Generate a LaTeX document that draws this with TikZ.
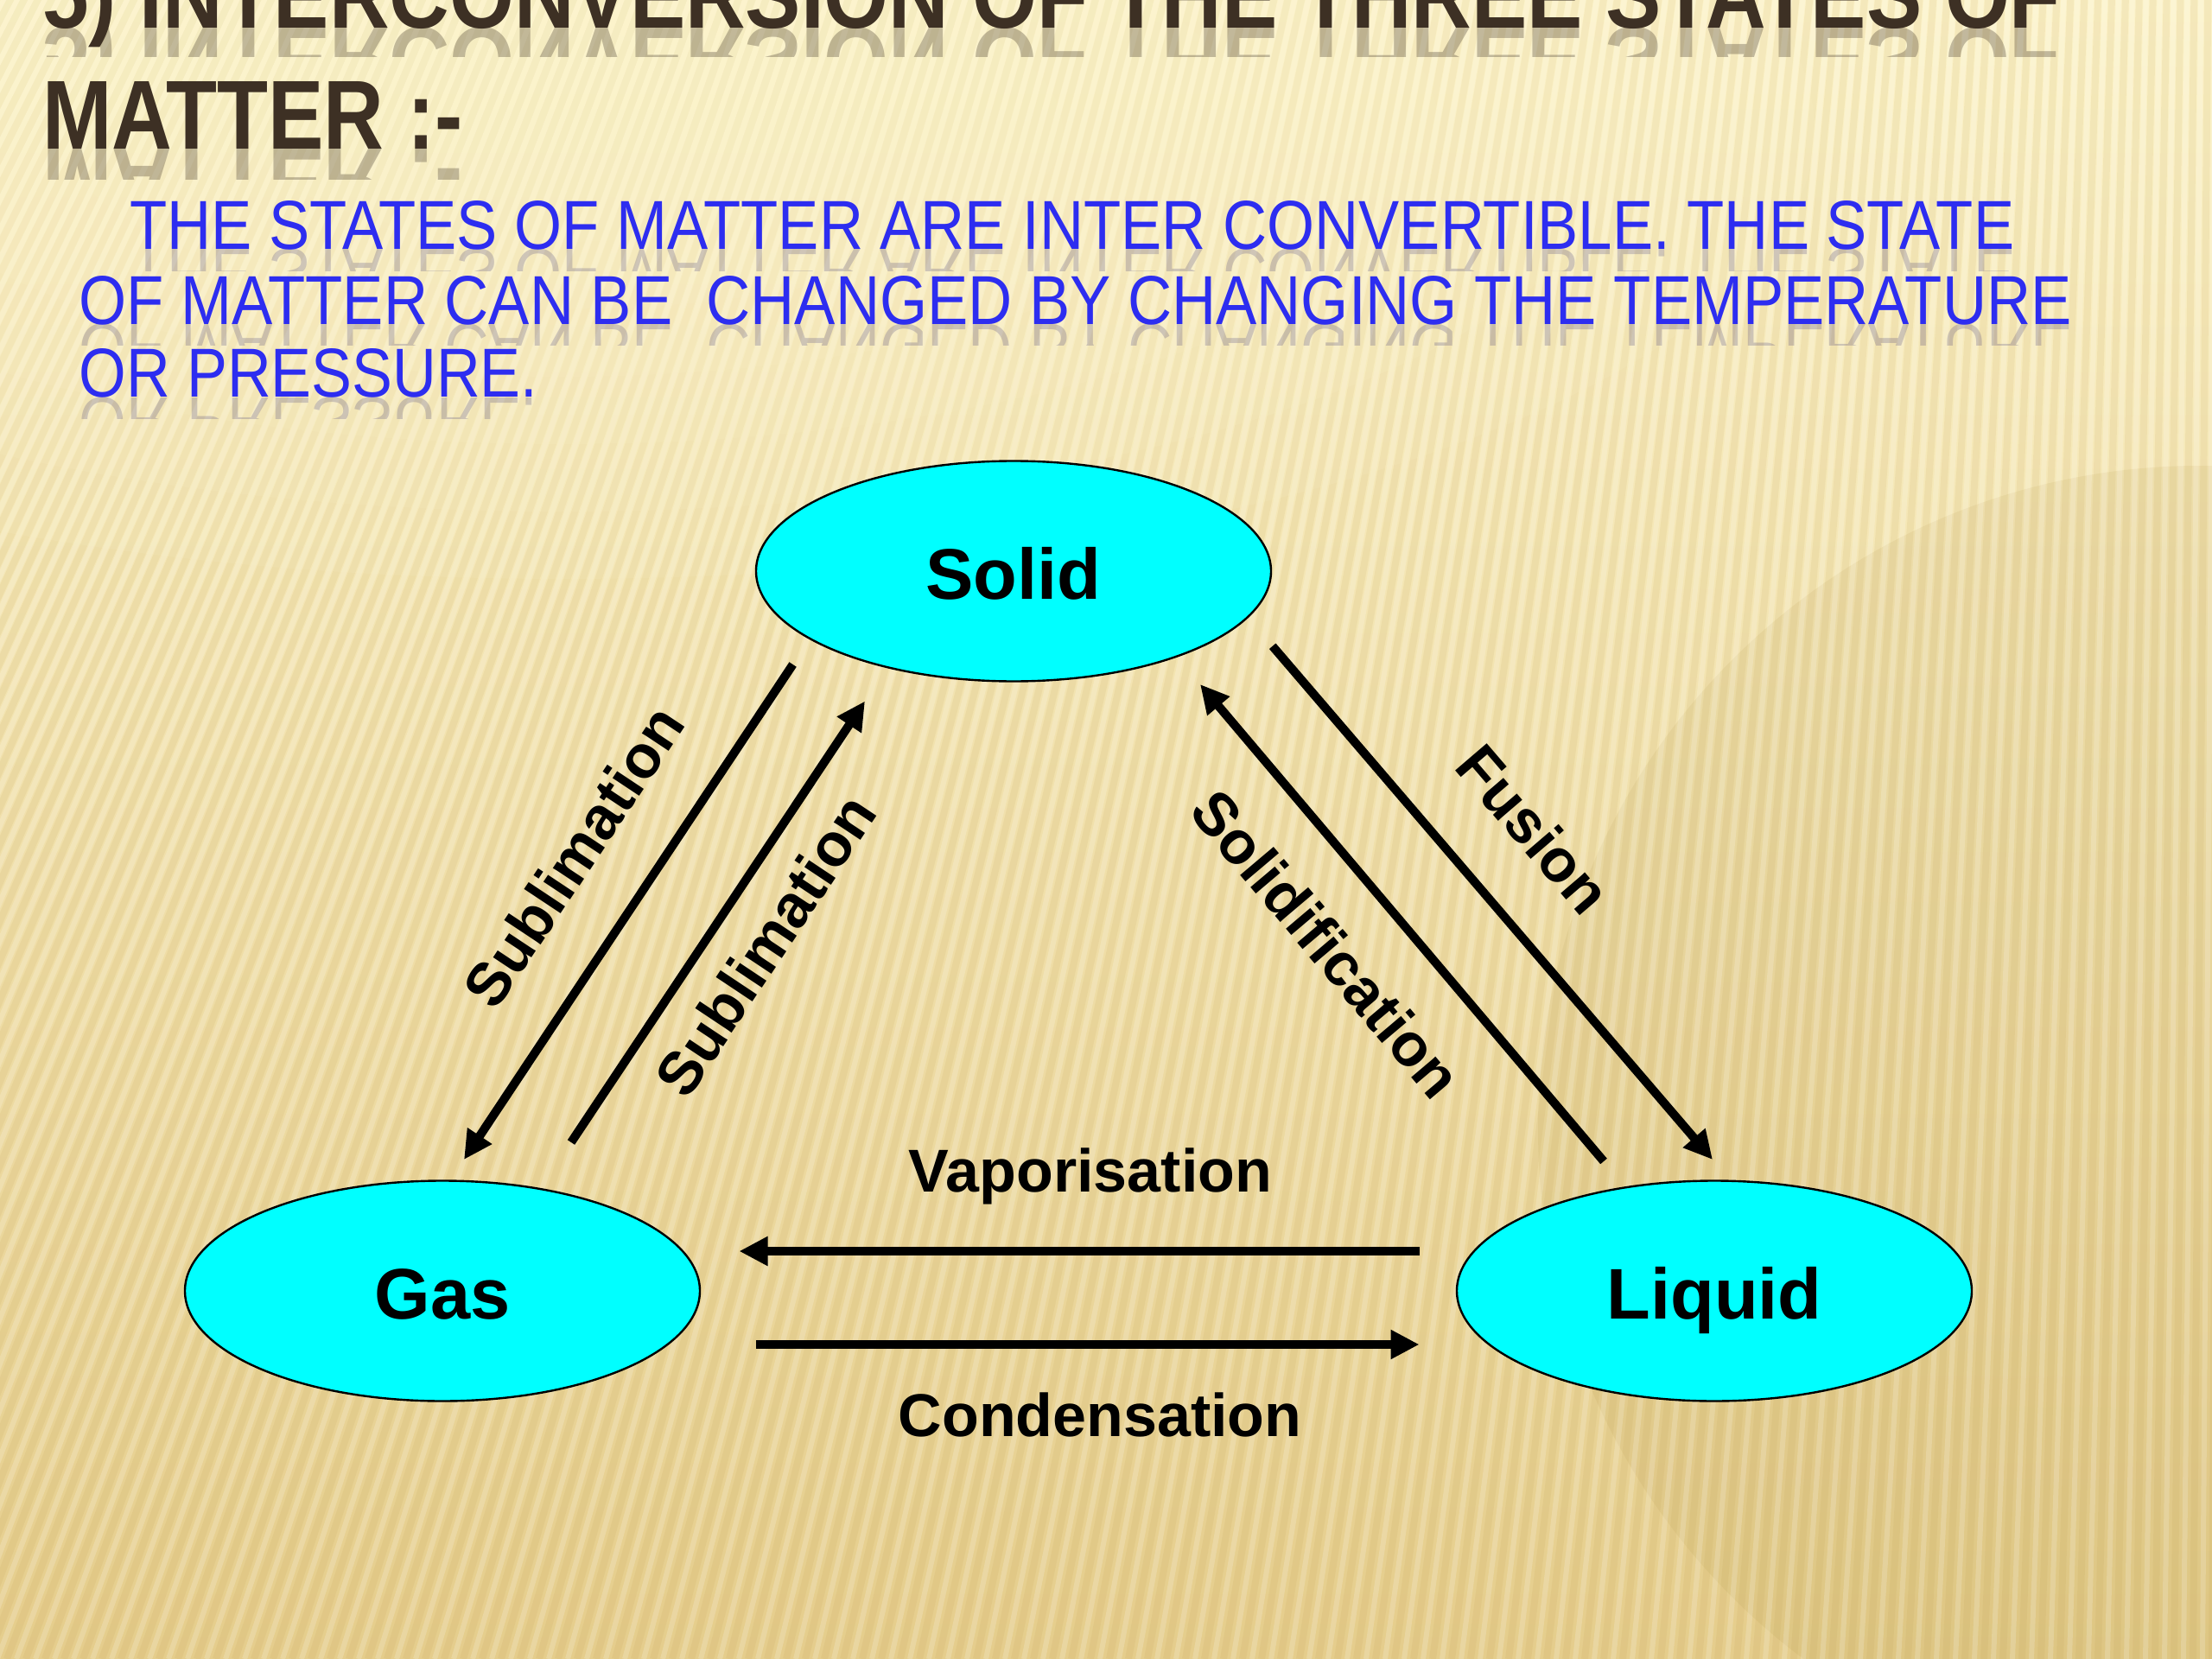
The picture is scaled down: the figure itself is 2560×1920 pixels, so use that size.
\documentclass[tikz,border=0pt]{standalone}
\usepackage{fontspec}
\setmainfont{Liberation Sans}
\usepackage{graphicx}
\usetikzlibrary{shapes.geometric,arrows.meta}
\definecolor{bgtop}{RGB}{252,243,202}
\definecolor{bgmid}{RGB}{247,231,176}
\definecolor{bgbot}{RGB}{229,205,140}
\definecolor{stripec}{RGB}{185,150,70}
\definecolor{discc}{RGB}{170,140,60}
\definecolor{titlebrown}{RGB}{61,48,36}
\definecolor{bodyblue}{RGB}{45,45,240}
\definecolor{statecyan}{RGB}{0,255,255}
\newcommand\TitleA{\resizebox{1167.5pt}{39pt}{\bfseries 5) INTERCONVERSION OF THE THREE STATES OF}}
\newcommand\TitleB{\resizebox{243pt}{39pt}{\bfseries MATTER :-}}
\newcommand\BodyA{\resizebox{1090pt}{28pt}{THE STATES OF MATTER ARE INTER CONVERTIBLE. THE STATE}}
\newcommand\BodyB{\resizebox{1153pt}{28pt}{OF MATTER CAN BE\ \ CHANGED BY CHANGING THE TEMPERATURE}}
\newcommand\BodyC{\resizebox{265.5pt}{28pt}{OR PRESSURE.}}
\begin{document}
\begin{tikzpicture}[x=0.5pt,y=-0.5pt,
  stripe/.style={line width=4pt, draw=stripec, draw opacity=0.11},
  shine/.style={line width=3pt, draw=white, draw opacity=0.18},
  glow/.style={fill=bgtop, fill opacity=0.13},
  titletext/.style={inner sep=0, text=titlebrown, anchor=base west},
  bodytext/.style={inner sep=0, text=bodyblue, anchor=base west},
  mirror/.style={inner sep=0, anchor=base west, yscale=-1},
  state/.style={ellipse, draw=black, line width=1.2pt, fill=statecyan,
    minimum width=298pt, minimum height=127.5pt, inner sep=0,
    text height=32pt, text depth=0pt,
    font=\fontsize{41.5}{48}\selectfont\bfseries},
  conv/.style={line width=5pt, draw=black, -{Triangle[length=16.5pt,width=16pt]}},
  lbl/.style={inner sep=0, font=\fontsize{35}{40}\selectfont\bfseries}]
\useasboundingbox (0,0) rectangle (2560,1920);
\clip (0,0) rectangle (2560,1920);
% background
\shade[top color=bgtop, middle color=bgmid, bottom color=bgbot] (0,0) rectangle (2560,1920);
\fill[discc, opacity=0.10] (2547,1306) circle[radius=767];
\foreach \b in {-1400,-1378,...,2700} {
  \draw[stripe] (2600,-5000) -- (\b,1920);
  \draw[shine] (2600,-5000) -- (\b+11,1920);
}
\foreach \r in {1,0.85,0.7,0.55,0.4,0.25} {
  \fill[glow] (650,150) ellipse[x radius=1450*\r, y radius=520*\r];
}
% title reflections (one faint mirrored copy per line)
\begin{scope}
  \clip (0,33) rectangle (2560,66);
  \node[mirror, text=titlebrown, opacity=0.3] (title1r) at (49,33) {\TitleA};
\end{scope}
\begin{scope}
  \clip (0,173) rectangle (2560,208);
  \node[mirror, text=titlebrown, opacity=0.3] (title2r) at (49,173) {\TitleB};
\end{scope}
\begin{scope}
  \clip (0,289) rectangle (2560,314);
  \node[mirror, text=titlebrown!60!bodyblue, opacity=0.22] (body1r) at (150,289) {\BodyA};
\end{scope}
\begin{scope}
  \clip (0,375.5) rectangle (2560,400);
  \node[mirror, text=titlebrown!60!bodyblue, opacity=0.22] (body2r) at (91,375.5) {\BodyB};
\end{scope}
\begin{scope}
  \clip (0,460) rectangle (2560,485);
  \node[mirror, text=titlebrown!60!bodyblue, opacity=0.22] (body3r) at (91,460) {\BodyC};
\end{scope}
% title and body text
\node[titletext] (title1) at (49,33) {\TitleA};
\node[titletext] (title2) at (49,173) {\TitleB};
\node[bodytext] (body1) at (150,289) {\BodyA};
\node[bodytext] (body2) at (91,375.5) {\BodyB};
\node[bodytext] (body3) at (91,460) {\BodyC};
% states
\node[state] (solid) at (1173,661) {Solid};
\node[state] (gas) at (512,1494) {Gas};
\node[state] (liquid) at (1984,1494) {Liquid};
% connector ends
\coordinate (sgA) at (917.6,769);
\coordinate (sgB) at (537,1342);
\coordinate (gsA) at (661,1322);
\coordinate (gsB) at (1001,811.5);
\coordinate (lsA) at (1856,1344);
\coordinate (lsB) at (1389,792);
\coordinate (slA) at (1472.7,747.8);
\coordinate (slB) at (1982,1342);
\coordinate (lgA) at (1642.5,1448);
\coordinate (lgB) at (855.5,1448);
\coordinate (glA) at (875,1556);
\coordinate (glB) at (1642.5,1556);
% connectors
\draw[conv] (sgA) -- (sgB) node[lbl, sloped, pos=0.473, above=29pt] (lsub1) {Sublimation};
\draw[conv] (gsA) -- (gsB) node[lbl, sloped, pos=0.513, below=14.75pt] (lsub2) {Sublimation};
\draw[conv] (lsA) -- (lsB) node[lbl, sloped, pos=0.552, below=25.7pt] (lsolid) {Solidification};
\draw[conv] (slA) -- (slB) node[lbl, sloped, pos=0.457, above=30.7pt] (lfus) {Fusion};
\draw[conv] (lgA) -- (lgB) node[lbl, pos=0.4835, above=24.6pt] (lvap) {Vaporisation};
\draw[conv] (glA) -- (glB) node[lbl, pos=0.5186, below=25.5pt] (lcond) {Condensation};
\end{tikzpicture}
\end{document}
